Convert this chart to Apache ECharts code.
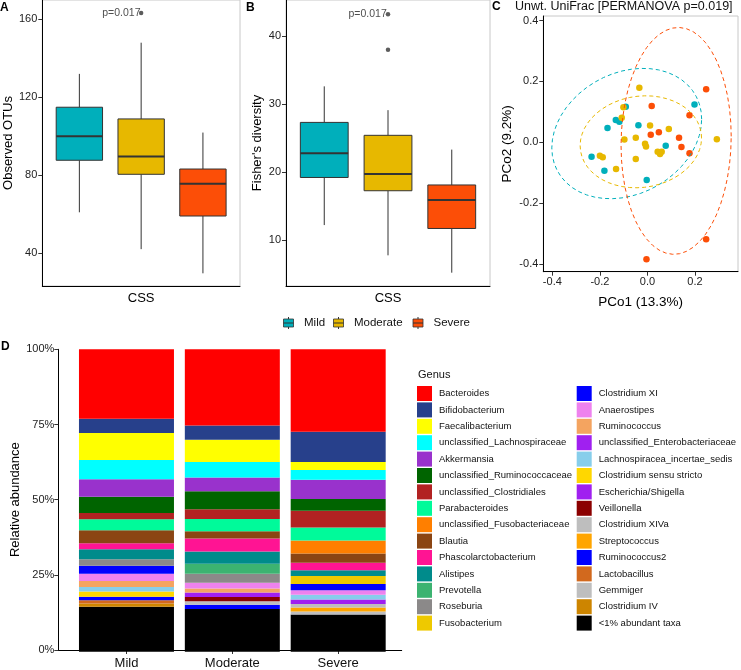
<!DOCTYPE html>
<html><head><meta charset="utf-8">
<script src="https://cdn.jsdelivr.net/npm/echarts@6/dist/echarts.min.js"></script>
<style>html,body{margin:0;padding:0;background:#fff}#c{width:741px;height:670px}</style>
</head><body><div id="c"></div>
<script>
// ---------------- DATA ----------------
const groups = ['Mild', 'Moderate', 'Severe'];
const groupColors = ['#00AFBB', '#E7B800', '#FC4E07'];

// Panel A: Observed OTUs  [lower whisker, Q1, median, Q3, upper whisker]
const otuStats = [
  [61.0, 87.7, 100.0, 114.9, 132.0],
  [42.1, 80.5, 89.6, 108.9, 148.0],
  [29.7, 59.1, 75.6, 83.2, 101.9]
];
const otuOutliers = [[], [163.2], []];
const otuTicks = [40, 80, 120, 160];
const otuPLabel = 'p=0.017';

// Panel B: Fisher's diversity
const fisherStats = [
  [12.2, 19.2, 22.75, 27.3, 32.6],
  [7.75, 17.25, 19.7, 25.4, 29.1],
  [5.2, 11.7, 15.9, 18.1, 23.3]
];
const fisherOutliers = [[], [38.0, 43.2], []];
const fisherTicks = [10, 20, 30, 40];
const fisherPLabel = 'p=0.017';

// Panel C: PCoA (unweighted UniFrac)
const pcoMild = [[-0.235,-0.047],[-0.181,-0.093],[-0.168,0.047],[-0.133,0.073],[-0.118,0.068],
  [-0.091,0.117],[-0.038,0.056],[-0.003,-0.124],[0.077,-0.011],[0.198,0.124]];
const pcoModerate = [[-0.034,0.179],[-0.101,0.115],[-0.108,0.081],[-0.097,0.009],[-0.200,-0.044],
  [-0.188,-0.049],[-0.132,-0.088],[-0.049,0.015],[-0.049,-0.055],[-0.010,-0.005],[-0.006,-0.014],
  [0.011,0.055],[0.043,-0.031],[0.053,-0.038],[0.060,-0.031],[0.090,0.044],[0.292,0.010]];
const pcoSevere = [[0.018,0.119],[0.014,0.025],[0.048,0.033],[0.133,0.015],[0.143,-0.015],
  [0.177,0.089],[0.177,-0.036],[0.247,0.174],[0.247,-0.318],[-0.004,-0.384]];
const pcoXTicks = [-0.4, -0.2, 0, 0.2];
const pcoYTicks = [-0.4, -0.2, 0, 0.2, 0.4];
const pcoTitle = 'Unwt. UniFrac [PERMANOVA p=0.019]';
const pcoXName = 'PCo1 (13.3%)';
const pcoYName = 'PCo2 (9.2%)';

// Panel D: relative abundance (%) — genus order = legend order (top of stack first)
const genusNames = ['Bacteroides','Bifidobacterium','Faecalibacterium','unclassified_Lachnospiraceae',
  'Akkermansia','unclassified_Ruminococcaceae','unclassified_Clostridiales','Parabacteroides',
  'unclassified_Fusobacteriaceae','Blautia','Phascolarctobacterium','Alistipes','Prevotella',
  'Roseburia','Fusobacterium','Clostridium XI','Anaerostipes','Ruminococcus',
  'unclassified_Enterobacteriaceae','Lachnospiracea_incertae_sedis','Clostridium sensu stricto',
  'Escherichia/Shigella','Veillonella','Clostridium XIVa','Streptococcus','Ruminococcus2',
  'Lactobacillus','Gemmiger','Clostridium IV','<1% abundant taxa'];
const genusColors = ['#FF0000','#27408B','#FFFF00','#00FFFF','#9932CC','#006400','#B22222','#00FA9A',
  '#FF7F00','#8B4513','#FF1493','#008B8B','#3CB371','#8B8989','#EEC900','#0000FF','#EE82EE','#F4A460',
  '#A020F0','#87CEEB','#FFD700','#A020F0','#8B0000','#BEBEBE','#FFA500','#0000FF','#D2691E','#BEBEBE',
  '#CD8500','#000000'];
const abundanceMild =     [23.0,4.7,8.9,6.4,5.8,5.3,2.1,3.6,0,4.3,2.0,3.3,0,2.2,0,2.6,2.4,2.0,0,1.5,1.7,0,0,0,0,1.2,1.1,0,1.0,14.9];
const abundanceModerate = [25.2,4.7,7.4,5.1,4.5,6.0,3.2,4.1,0,2.4,4.3,4.0,3.3,3.0,0,0,1.9,1.3,0,0,0,1.5,1.4,1.2,0,1.4,0,0,0,14.1];
const abundanceSevere =   [27.3,10.0,2.6,3.2,6.4,3.9,5.5,4.3,4.3,3.1,2.5,1.9,0,0,2.6,2.1,1.5,0,0,1.5,0,1.5,0,1.2,1.3,0,0,1.0,0,12.3];
const abundanceTicks = [0, 25, 50, 75, 100];

// ---------------- HELPERS ----------------
const FONT = '"Liberation Sans", Arial, Helvetica, sans-serif';

function boxRender(params, api) {
  const x = api.value(0);
  const color = groupColors[api.value(6)];
  const w = api.size([0.75, 0])[0];
  const pLo = api.coord([x, api.value(1)]), pQ1 = api.coord([x, api.value(2)]);
  const pMed = api.coord([x, api.value(3)]), pQ3 = api.coord([x, api.value(4)]);
  const pHi = api.coord([x, api.value(5)]);
  const cx = pLo[0];
  const stroke = '#333333';
  return { type: 'group', children: [
    { type: 'line', shape: { x1: cx, y1: pHi[1], x2: cx, y2: pQ3[1] }, style: { stroke, lineWidth: 1 } },
    { type: 'line', shape: { x1: cx, y1: pQ1[1], x2: cx, y2: pLo[1] }, style: { stroke, lineWidth: 1 } },
    { type: 'rect', shape: { x: cx - w / 2, y: pQ3[1], width: w, height: pQ1[1] - pQ3[1] },
      style: { fill: color, stroke, lineWidth: 1 } },
    { type: 'line', shape: { x1: cx - w / 2, y1: pMed[1], x2: cx + w / 2, y2: pMed[1] }, style: { stroke, lineWidth: 2 } }
  ]};
}

// MASS::cov.trob (2D) + ggplot2 stat_ellipse (type "t", level 0.95)
function covTrob(pts) {
  const n = pts.length, p = 2, nu = 5;
  let loc = [0, 0];
  pts.forEach(q => { loc[0] += q[0] / n; loc[1] += q[1] / n; });
  let w = pts.map(() => 1), X = null;
  for (let it = 0; it < 25; it++) {
    const w0 = w.slice();
    X = pts.map(q => [q[0] - loc[0], q[1] - loc[1]]);
    const sw = w.reduce((s, v) => s + v, 0);
    let a = 0, b = 0, c = 0;
    X.forEach((d, i) => { const f = w[i] / sw; a += f * d[0] * d[0]; b += f * d[0] * d[1]; c += f * d[1] * d[1]; });
    const det = a * c - b * b;
    const Q = X.map(d => (c * d[0] * d[0] - 2 * b * d[0] * d[1] + a * d[1] * d[1]) / det);
    w = Q.map(q => (nu + p) / (nu + q));
    const sw2 = w.reduce((s, v) => s + v, 0);
    loc = [0, 0];
    pts.forEach((q, i) => { loc[0] += w[i] * q[0] / sw2; loc[1] += w[i] * q[1] / sw2; });
    if (w.every((v, i) => Math.abs(v - w0[i]) < 0.01)) break;
  }
  let a = 0, b = 0, c = 0;
  X.forEach((d, i) => { a += w[i] * d[0] * d[0] / n; b += w[i] * d[0] * d[1] / n; c += w[i] * d[1] * d[1] / n; });
  return { center: loc, cov: [[a, b], [b, c]] };
}
function ellipsePoints(pts, level) {
  const { center, cov } = covTrob(pts);
  const dfd = pts.length - 1;
  const f = (dfd / 2) * (Math.pow(1 - level, -2 / dfd) - 1); // qf(level, 2, dfd)
  const r = Math.sqrt(2 * f);
  const R11 = Math.sqrt(cov[0][0]), R12 = cov[0][1] / R11, R22 = Math.sqrt(cov[1][1] - R12 * R12);
  const out = [];
  const seg = 51;
  for (let i = 0; i < seg; i++) {
    const t = 2 * Math.PI * i / (seg - 1), u = Math.cos(t), v = Math.sin(t);
    out.push([center[0] + r * u * R11, center[1] + r * (u * R12 + v * R22)]);
  }
  return out;
}

function valueAxisBase(gridIndex) {
  return {
    type: 'value', gridIndex,
    axisLine: { show: true, onZero: false, lineStyle: { color: '#000', width: 1 } },
    splitLine: { show: false },
    nameLocation: 'middle',
    nameTextStyle: { fontSize: 13, color: '#000', fontFamily: FONT }
  };
}
function ticked(ticks, fmt, margin) {
  return {
    axisTick: { show: true, length: 4, customValues: ticks, lineStyle: { color: '#333' } },
    axisLabel: { show: true, customValues: ticks, fontSize: 11, color: '#222', margin, fontFamily: FONT,
      formatter: fmt || (v => String(v)) }
  };
}

// ---------------- OPTION ----------------
const series = [];

// A
series.push({ type: 'custom', xAxisIndex: 0, yAxisIndex: 0, renderItem: boxRender,
  data: otuStats.map((s, i) => [i + 1, ...s, i]), encode: { x: 0, y: [1, 2, 3, 4, 5] }, z: 2 });
series.push({ type: 'scatter', xAxisIndex: 0, yAxisIndex: 0, symbolSize: 4.5, itemStyle: { color: '#333' },
  data: otuOutliers.flatMap((arr, i) => arr.map(v => [i + 1, v])), z: 3 });
series.push({ type: 'scatter', xAxisIndex: 0, yAxisIndex: 0, symbolSize: 1, itemStyle: { color: 'transparent' },
  data: [[1.68, Math.max(...otuStats.flat(), ...otuOutliers.flat())]],
  label: { show: true, position: 'inside', formatter: otuPLabel, fontSize: 10.5, color: '#222', fontFamily: FONT }, z: 4 });

// B
series.push({ type: 'custom', xAxisIndex: 1, yAxisIndex: 1, renderItem: boxRender,
  data: fisherStats.map((s, i) => [i + 1, ...s, i]), encode: { x: 0, y: [1, 2, 3, 4, 5] }, z: 2 });
series.push({ type: 'scatter', xAxisIndex: 1, yAxisIndex: 1, symbolSize: 4.5, itemStyle: { color: '#333' },
  data: fisherOutliers.flatMap((arr, i) => arr.map(v => [i + 1, v])), z: 3 });
series.push({ type: 'scatter', xAxisIndex: 1, yAxisIndex: 1, symbolSize: 1, itemStyle: { color: 'transparent' },
  data: [[1.68, Math.max(...fisherStats.flat(), ...fisherOutliers.flat())]],
  label: { show: true, position: 'inside', formatter: fisherPLabel, fontSize: 10.5, color: '#222', fontFamily: FONT }, z: 4 });

// C
const pcoSets = [pcoMild, pcoModerate, pcoSevere];
pcoSets.forEach((pts, i) => {
  series.push({ type: 'scatter', name: groups[i], xAxisIndex: 2, yAxisIndex: 2, symbolSize: 6.5,
    itemStyle: { color: groupColors[i], opacity: 1 }, data: pts, z: 3 });
});
pcoSets.forEach((pts, i) => {
  series.push({ type: 'line', xAxisIndex: 2, yAxisIndex: 2, showSymbol: false, symbol: 'none', smooth: false,
    lineStyle: { color: groupColors[i], width: 1, type: [4, 3] }, data: ellipsePoints(pts, 0.95), z: 4, silent: true });
});

// D (stack from bottom: last genus first) — drawn on a category axis aligned with the visible value axis
const abundanceByGroup = [abundanceMild, abundanceModerate, abundanceSevere];
for (let g = genusNames.length - 1; g >= 0; g--) {
  series.push({ type: 'bar', name: genusNames[g], stack: 'genus', xAxisIndex: 4, yAxisIndex: 4,
    barWidth: 95, itemStyle: { color: genusColors[g] },
    data: abundanceByGroup.map(arr => arr[g]) });
}

// Top legend (boxplot glyphs) + annotations
const graphic = [];
const legIconX = [283.5, 333.5, 413];
groups.forEach((g, i) => {
  const x0 = legIconX[i];
  graphic.push({ type: 'line', shape: { x1: x0 + 5, y1: 317, x2: x0 + 5, y2: 329 }, style: { stroke: '#333', lineWidth: 1 } });
  graphic.push({ type: 'rect', shape: { x: x0, y: 319, width: 10, height: 8 }, style: { fill: groupColors[i], stroke: '#333', lineWidth: 0.8 } });
  graphic.push({ type: 'line', shape: { x1: x0, y1: 323, x2: x0 + 10, y2: 323 }, style: { stroke: '#333', lineWidth: 1 } });
  graphic.push({ type: 'text', x: x0 + 20.5, y: 323, style: { text: g, fontSize: 11.5, fill: '#111', fontFamily: FONT, verticalAlign: 'middle' } });
});
[['A', 0, 8], ['B', 246, 8], ['C', 492, 7], ['D', 1, 347]].forEach(([t, x, y]) => {
  graphic.push({ type: 'text', x, y, style: { text: t, fontSize: 12, fontWeight: 'bold', fill: '#000', fontFamily: FONT, verticalAlign: 'middle' } });
});
graphic.push({ type: 'text', x: 515, y: 6.5, style: { text: pcoTitle, fontSize: 12.5, fill: '#111', fontFamily: FONT, verticalAlign: 'middle' } });
graphic.push({ type: 'text', x: 418, y: 375, style: { text: 'Genus', fontSize: 11, fill: '#111', fontFamily: FONT, verticalAlign: 'middle' } });

// D geometry: visible value axis 0.356..3.6 over 58.3..401.7; bars on matching category band
const dLeft = 58.3, dWidth = 343.4, dMin = 0.356, dMax = 3.6;
const dUnit = dWidth / (dMax - dMin);
const option = {
  animation: false,
  textStyle: { fontFamily: FONT },
  grid: [
    { left: 42.3, top: 0, width: 197.7, height: 286, show: true, borderColor: '#C8C8C8', borderWidth: 1 },
    { left: 286, top: 0, width: 204, height: 286, show: true, borderColor: '#C8C8C8', borderWidth: 1 },
    { left: 543.3, top: 16, width: 194.7, height: 255.7, show: true, borderColor: '#C8C8C8', borderWidth: 1 },
    { left: dLeft, top: 349.3, width: dWidth, height: 302.4 },
    { left: dLeft + (0.5 - dMin) * dUnit, top: 349.3, width: 3 * dUnit, height: 302.4 }
  ],
  xAxis: [
    Object.assign(valueAxisBase(0), { min: 0.4, max: 3.6, axisTick: { show: false }, axisLabel: { show: false }, name: 'CSS', nameGap: 6 }),
    Object.assign(valueAxisBase(1), { min: 0.4, max: 3.6, axisTick: { show: false }, axisLabel: { show: false }, name: 'CSS', nameGap: 6 }),
    Object.assign(valueAxisBase(2), { min: -0.438, max: 0.381, name: pcoXName, nameGap: 24,
      nameTextStyle: { fontSize: 13.5, color: '#000', fontFamily: FONT } }, ticked(pcoXTicks, v => v.toFixed(1), 5)),
    Object.assign(valueAxisBase(3), { min: dMin, max: dMax },
      ticked([1, 2, 3], v => groups[Math.round(v) - 1], 7),
      { axisLabel: { show: true, customValues: [1, 2, 3], fontSize: 13, color: '#111', margin: 7, fontFamily: FONT,
        formatter: v => groups[Math.round(v) - 1] } }),
    { type: 'category', gridIndex: 4, data: groups, show: false, boundaryGap: true }
  ],
  yAxis: [
    Object.assign(valueAxisBase(0), { min: 23.2, max: 169.9, name: 'Observed OTUs', nameGap: 21 }, ticked(otuTicks, null, 5)),
    Object.assign(valueAxisBase(1), { min: 3.24, max: 45.3, name: "Fisher's diversity", nameGap: 22 }, ticked(fisherTicks, null, 5)),
    Object.assign(valueAxisBase(2), { min: -0.425, max: 0.415, name: pcoYName, nameGap: 29,
      nameTextStyle: { fontSize: 13.5, color: '#000', fontFamily: FONT } }, ticked(pcoYTicks, v => v.toFixed(1), 5)),
    Object.assign(valueAxisBase(3), { min: 0, max: 100, name: 'Relative abundance', nameGap: 36 },
      ticked(abundanceTicks, v => v + '%', 4)),
    { type: 'value', gridIndex: 4, min: 0, max: 100, show: false, splitLine: { show: false } }
  ],
  legend: [
    { orient: 'vertical', left: 417, top: 386, itemWidth: 15, itemHeight: 15, itemGap: 1.4, icon: 'rect',
      selectedMode: false, padding: 0, data: genusNames.slice(0, 15),
      textStyle: { fontSize: 9.5, color: '#111', fontFamily: FONT, padding: [0, 0, 0, 2] } },
    { orient: 'vertical', left: 576.7, top: 386, itemWidth: 15, itemHeight: 15, itemGap: 1.4, icon: 'rect',
      selectedMode: false, padding: 0, data: genusNames.slice(15),
      textStyle: { fontSize: 9.5, color: '#111', fontFamily: FONT, padding: [0, 0, 0, 2] } }
  ],
  graphic,
  series
};

const chart = echarts.init(document.getElementById('c'), null, { renderer: 'canvas', width: 741, height: 670 });
chart.setOption(option);
</script></body></html>
